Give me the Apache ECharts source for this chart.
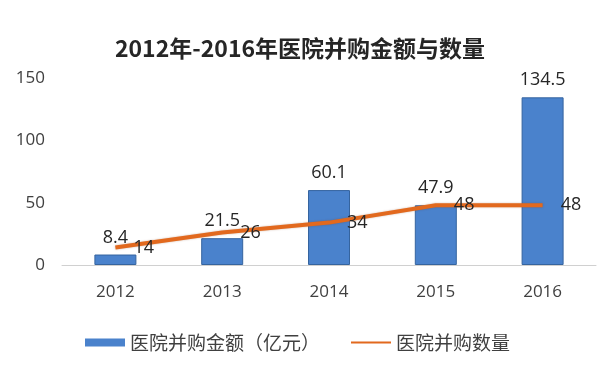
<!DOCTYPE html>
<html><head><meta charset="utf-8">
<script src="https://cdn.jsdelivr.net/npm/echarts@6/dist/echarts.min.js"></script>
<style>html,body{margin:0;padding:0;background:#fff}#c{width:600px;height:365px}</style>
</head><body><div id="c"></div>
<script>
const categories = ['2012','2013','2014','2015','2016'];
const amountValues = [8.4, 21.5, 60.1, 47.9, 134.5];
const countValues = [14, 26, 34, 48, 48];
const yTicks = [0, 50, 100, 150];
const titleText = '2012年-2016年医院并购金额与数量';
const amountName = '医院并购金额（亿元）';
const countName = '医院并购数量';

const FONT = "'Open Sans', 'Noto Sans CJK SC', sans-serif";
const chart = echarts.init(document.getElementById('c'), null, {renderer:'canvas'});
chart.setOption({
  animation: false,
  backgroundColor: '#fff',
  title: {
    text: titleText, left: 'center', top: 32,
    textStyle: {fontFamily: "'Noto Sans CJK SC', sans-serif", fontWeight: 'bold', fontSize: 23, color: '#262626'}
  },
  legend: {
    left: 80, top: 328, itemWidth: 40, itemHeight: 8, itemGap: 30,
    textStyle: {fontFamily: "'Noto Sans CJK SC', sans-serif", fontSize: 19, color: '#404040'},
    data: [{name: amountName, icon: 'rect', itemStyle: {borderWidth: 0}}, {name: countName, itemStyle: {opacity: 0}}]
  },
  grid: {left: 62, right: 4, top: 78, bottom: 100, containLabel: false},
  xAxis: {
    type: 'category', data: categories,
    axisLine: {lineStyle: {color: '#d0d0d0', width: 1}},
    axisTick: {show: false},
    axisLabel: {fontFamily: FONT, fontSize: 17, color: '#404040', margin: 19}
  },
  yAxis: {
    type: 'value', min: yTicks[0], max: yTicks[yTicks.length-1], interval: 50,
    axisLine: {show: false}, axisTick: {show: false}, splitLine: {show: false},
    axisLabel: {fontFamily: FONT, fontSize: 17, color: '#404040', margin: 17}
  },
  series: [
    {
      name: amountName, type: 'bar', data: amountValues, barWidth: 42,
      itemStyle: {color: '#4a82cc', borderColor: '#35649f', borderWidth: 1},
      label: {show: true, position: 'top', distance: 8, fontFamily: FONT, fontSize: 18, color: '#262626'}
    },
    {
      name: countName, type: 'line', data: countValues, symbol: 'circle', symbolSize: 0.1, showSymbol: true,
      lineStyle: {color: '#e2691e', width: 4, shadowColor: 'rgba(120,50,0,0.35)', shadowBlur: 2},
      itemStyle: {color: '#e2691e'},
      label: {show: true, position: 'right', distance: 18, fontFamily: FONT, fontSize: 18, color: '#262626'},
      z: 3
    }
  ]
});
</script></body></html>
